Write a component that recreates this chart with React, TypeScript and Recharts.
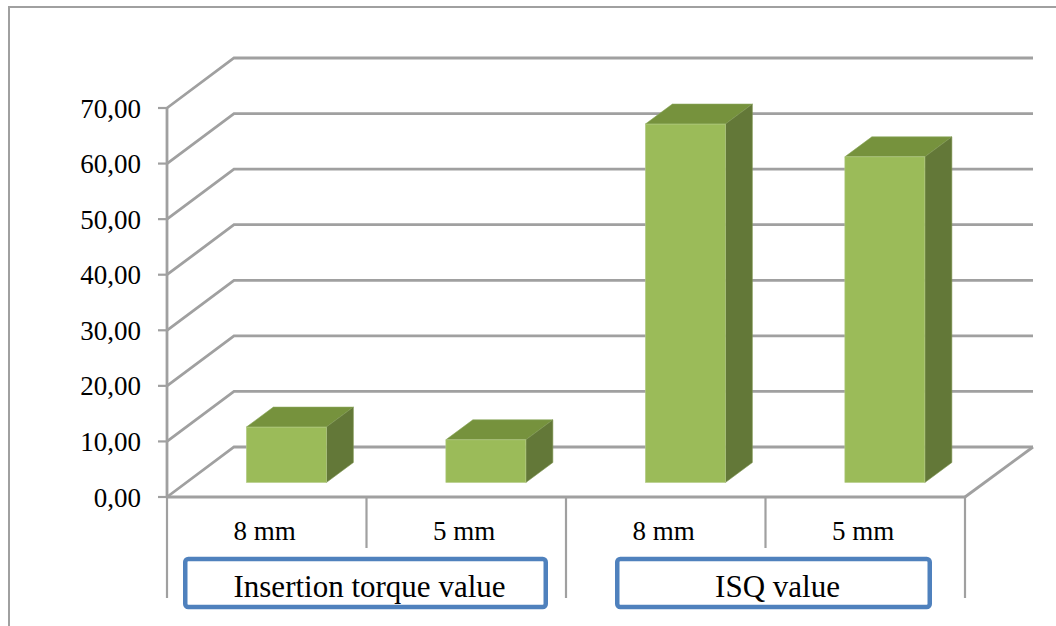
import { BarChart, Bar, XAxis, YAxis, CartesianGrid } from "recharts";

// categories, grouping and values
const sizes = ["8 mm", "5 mm", "8 mm", "5 mm"];
const groups = ["Insertion torque value", "Insertion torque value", "ISQ value", "ISQ value"];
const values = [9.97, 7.68, 64.5, 58.6];
const yTicks = [0, 10, 20, 30, 40, 50, 60, 70];

const data = sizes.map((size, i) => ({ key: i, size, group: groups[i], value: values[i] }));

// layout
const W = 1056;
const H = 626;
const MARGIN = { top: 108, right: 91, bottom: 0, left: 0 };
const Y_AXIS_W = 167;
const X_AXIS_H = 129;
const PLOT_W = W - MARGIN.left - MARGIN.right - Y_AXIS_W;
const PLOT_BOTTOM = H - MARGIN.bottom - X_AXIS_H;
const BAND = PLOT_W / sizes.length;

// fake 3d: back wall offset, bar placement in depth, bar depth
const WALL = { x: 67, y: -50 };
const BAR_SHIFT = { x: 19.5, y: -14.5 };
const BAR_DEPTH = { x: 27, y: -20 };

const FONT = "'Liberation Serif', 'Times New Roman', serif";
const GRID = "#a0a0a0";
const GRID_W = 2.8;
const FRONT = "#9bbb59";
const TOP = "#76923d";
const SIDE = "#637838";
const BOX = "#4f81bd";
const BOX_W = 4.5;

// left/right inset of the group label boxes inside their span
const groupBoxInsets = [
  [16, 18],
  [49, 33],
];

const fmt = (v: number) => v.toFixed(2).replace(".", ",");

const wallLine = (props: any) => {
  const x1 = Number(props.x1);
  const x2 = Number(props.x2);
  const y = Number(props.y1);
  const isFloor = Math.abs(y - PLOT_BOTTOM) < 1;
  return (
    <g key={`wall-${props.index}`}>
      <path
        d={`M${x1},${y} L${x1 + WALL.x},${y + WALL.y} L${x2 + WALL.x + 1},${y + WALL.y}`}
        fill="none"
        stroke={GRID}
        strokeWidth={GRID_W}
      />
      {isFloor && (
        <line x1={x2} y1={y} x2={x2 + WALL.x + 1} y2={y + WALL.y} stroke={GRID} strokeWidth={GRID_W} />
      )}
    </g>
  );
};

const Box3D = (props: any) => {
  const x = Number(props.x);
  const y = Number(props.y);
  const width = Number(props.width);
  const height = Number(props.height);
  if (!(height > 0) || !(width > 0)) return <g />;
  const fx = x + BAR_SHIFT.x;
  const fy = y + BAR_SHIFT.y;
  const dx = BAR_DEPTH.x;
  const dy = BAR_DEPTH.y;
  return (
    <g>
      <polygon
        points={`${fx},${fy} ${fx + dx},${fy + dy} ${fx + width + dx},${fy + dy} ${fx + width},${fy}`}
        fill={TOP}
        stroke="#8aa85a"
        strokeWidth={0.6}
      />
      <polygon
        points={`${fx + width},${fy} ${fx + width + dx},${fy + dy} ${fx + width + dx},${fy + height + dy} ${fx + width},${fy + height}`}
        fill={SIDE}
        stroke="#7d9550"
        strokeWidth={0.6}
      />
      <rect x={fx} y={fy} width={width} height={height} fill={FRONT} stroke="#b5cc88" strokeWidth={0.6} />
    </g>
  );
};

const CategoryTick = (props: any) => {
  const x = Number(props.x);
  const y = Number(props.y);
  const i = Number(props.payload.value);
  const left = x - BAND / 2;
  const groupStart = i === 0 || groups[i] !== groups[i - 1];
  const last = i === sizes.length - 1;

  let box = null;
  if (groupStart) {
    let span = 1;
    while (i + span < groups.length && groups[i + span] === groups[i]) span++;
    const gi = groups.slice(0, i).filter((g, k) => k === 0 || g !== groups[k - 1]).length;
    const [il, ir] = groupBoxInsets[gi] || [16, 16];
    const bx = left + il + BOX_W / 2;
    const bw = span * BAND - il - ir - BOX_W;
    box = (
      <g>
        <rect x={bx} y={y + 62} width={bw} height={48} fill="#fff" stroke={BOX} strokeWidth={BOX_W} rx={3} />
        <text
          x={bx + bw / 2 + 4}
          y={y + 100}
          textAnchor="middle"
          fontFamily={FONT}
          fontSize={31}
          fill="#000"
        >
          {groups[i]}
        </text>
      </g>
    );
  }

  return (
    <g>
      <line x1={left} y1={y} x2={left} y2={y + (groupStart ? 101 : 51)} stroke={GRID} strokeWidth={2.2} />
      {last && <line x1={left + BAND} y1={y} x2={left + BAND} y2={y + 101} stroke={GRID} strokeWidth={2.2} />}
      <text x={x - 2} y={y + 43} textAnchor="middle" fontFamily={FONT} fontSize={27} fill="#000">
        {sizes[i]}
      </text>
      {box}
    </g>
  );
};

export default function App() {
  return (
    <div style={{ position: "relative", width: W, height: H, overflow: "hidden", background: "#fff" }}>
      <style>{"body{margin:0;overflow:hidden}"}</style>
      <div
        style={{
          position: "absolute",
          left: 8,
          top: 6,
          width: 1100,
          height: 700,
          border: "2px solid #a0a0a0",
          boxSizing: "border-box",
        }}
      />
      <div style={{ position: "absolute", left: 0, top: 0 }}>
        {/* gap is applied on both sides of a bar, so 30% leaves a 40% wide column */}
        <BarChart width={W} height={H} data={data} margin={MARGIN} barCategoryGap="30%">
          <CartesianGrid vertical={false} horizontal={wallLine} />
          <XAxis
            dataKey="key"
            height={X_AXIS_H}
            interval={0}
            tickLine={false}
            tickSize={0}
            tickMargin={0}
            axisLine={{ stroke: GRID, strokeWidth: GRID_W }}
            tick={<CategoryTick />}
          />
          <YAxis
            width={Y_AXIS_W}
            domain={[0, 70]}
            ticks={yTicks}
            interval={0}
            tickSize={9}
            tickMargin={17}
            tickFormatter={fmt}
            axisLine={{ stroke: GRID, strokeWidth: GRID_W }}
            tickLine={{ stroke: GRID, strokeWidth: 2.2 }}
            tick={{ fill: "#000", fontSize: 27, fontFamily: FONT }}
          />
          <Bar dataKey="value" shape={Box3D} isAnimationActive={false} />
        </BarChart>
      </div>
    </div>
  );
}
